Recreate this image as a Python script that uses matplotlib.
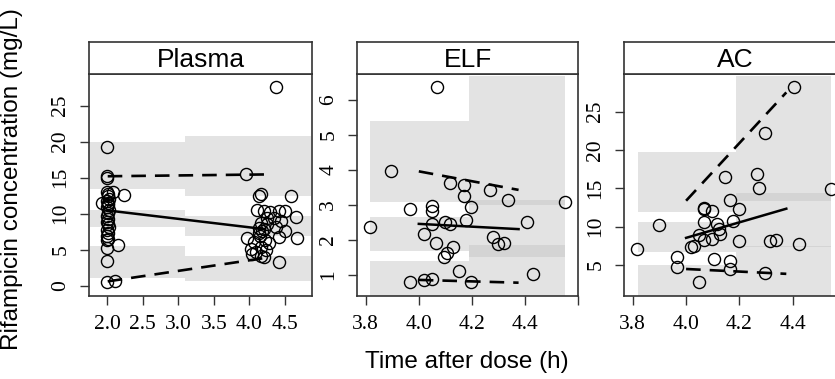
import numpy as np
import matplotlib
matplotlib.use("Agg")
import matplotlib.pyplot as plt

# observed concentrations (time after dose in h, conc in mg/L)
plasma_t = [2.0, 2.0, 2.0, 2.09, 1.93, 2.24, 2.16, 2.0, 2.0, 2.0, 2.11,
            2.0, 2.02, 2.01, 2.03, 2.0, 2.02, 2.01, 2.0, 2.03, 2.01, 2.0, 2.02,
            2.0, 2.01, 2.03, 2.0, 2.02, 2.0, 2.01, 2.0,
            4.378, 3.948, 4.135, 4.17, 4.58, 4.11, 4.205, 4.285, 4.416, 4.496,
            4.345, 4.65, 4.44, 4.16, 4.25, 4.38, 4.135, 4.18, 4.135, 4.5,
            4.416, 4.67, 3.97, 4.065, 4.275, 4.16, 4.03, 4.23, 4.04, 4.16,
            4.2, 4.416, 4.2, 4.15, 4.22, 4.1, 4.25]
plasma_c = [19.3, 15.3, 14.9, 13.05, 11.5, 12.6, 5.6, 5.25, 3.4, 0.45, 0.6,
            13.0, 12.7, 12.4, 12.1, 11.8, 11.5, 11.2, 10.9, 10.5, 10.1, 9.7, 9.3,
            8.9, 8.5, 8.1, 7.7, 7.3, 6.9, 6.5, 6.3,
            27.55, 15.5, 12.5, 12.74, 12.46, 10.5, 10.42, 10.28, 10.42, 10.42,
            9.36, 9.58, 9.03, 8.67, 8.57, 8.2, 8.01, 7.64, 7.28, 7.64,
            6.72, 6.62, 6.58, 6.03, 5.89, 5.33, 5.1, 4.96, 4.4, 4.17,
            3.94, 3.33, 7.9, 6.9, 6.4, 4.7, 9.4]

elf_t = [4.068, 3.896, 4.118, 4.169, 4.169, 4.269, 4.338, 4.55, 3.967, 4.049,
         4.049, 4.197, 3.816, 4.049, 4.097, 4.118, 4.177, 4.409, 4.018, 4.065,
         4.128, 4.106, 4.096, 4.278, 4.298, 4.32, 4.15, 4.43, 3.967, 4.018,
         4.049, 4.197]
elf_c = [6.36, 3.96, 3.63, 3.58, 3.27, 3.44, 3.13, 3.09, 2.88, 2.96,
         2.82, 2.95, 2.38, 2.46, 2.52, 2.46, 2.57, 2.52, 2.17, 1.91,
         1.81, 1.62, 1.51, 2.09, 1.88, 1.91, 1.12, 1.03, 0.79, 0.86,
         0.89, 0.79]

ac_t = [4.405, 4.297, 4.147, 4.265, 4.275, 4.542, 4.166, 4.066, 4.066, 4.097,
        4.197, 3.898, 4.066, 4.116, 4.176, 4.122, 4.048, 4.129, 4.066, 4.097,
        4.197, 4.315, 4.336, 4.425, 4.019, 4.031, 3.817, 3.967, 3.967, 4.106,
        4.166, 4.166, 4.297, 4.048]
ac_c = [28.17, 22.2, 16.43, 16.9, 15.08, 14.87, 13.47, 12.47, 12.3, 12.0,
        12.34, 10.22, 10.6, 10.35, 10.74, 9.7, 8.91, 9.0, 8.26, 8.39,
        8.09, 8.17, 8.22, 7.7, 7.39, 7.43, 7.05, 6.04, 4.78, 5.78,
        5.56, 4.52, 3.92, 2.74]

# simulated prediction intervals per time bin: 5th, 50th, 95th percentile bands
plasma_bins = [1.76, 3.095, 4.87]
plasma_band_lo = [[1.07, 0.61], [8.11, 6.86], [13.43, 12.42]]
plasma_band_hi = [[5.56, 4.08], [10.56, 9.72], [19.9, 20.83]]

elf_bins = [3.815, 4.19, 4.552]
elf_band_lo = [[0.3, 0.3], [1.69, 1.51], [3.08, 3.0]]
elf_band_hi = [[1.41, 1.87], [2.67, 3.15], [5.41, 6.69]]

ac_bins = [3.819, 4.188, 4.545]
ac_band_lo = [[0.5, 0.5], [6.66, 7.3], [11.87, 13.38]]
ac_band_hi = [[5.04, 7.45], [10.57, 14.43], [19.69, 29.68]]

# observed percentiles at bin midpoints
plasma_mid = [2.01, 4.22]
plasma_p5 = [0.6, 3.85]
plasma_p50 = [10.45, 7.85]
plasma_p95 = [15.2, 15.45]

elf_mid = [4.0, 4.376]
elf_p5 = [0.86, 0.78]
elf_p50 = [2.46, 2.31]
elf_p95 = [3.96, 3.43]

ac_mid = [4.0, 4.376]
ac_p5 = [4.48, 3.85]
ac_p50 = [8.54, 12.34]
ac_p95 = [13.38, 27.5]

W, H = 835, 379
fig = plt.figure(figsize=(W / 100, H / 100), dpi=100)
fig.patch.set_facecolor("white")
plt.rcParams["lines.scale_dashes"] = False

SERIF = "Liberation Serif"
SANS = "Liberation Sans"
EDGE = "#333333"


def px_axes(l, r, t, b):
    return fig.add_axes([l / W, 1 - b / H, (r - l) / W, (b - t) / H])


def panel(l, r, title, t, c, bins, lo, hi, mid, p5, p50, p95,
          xlim, ylim, xticks, xlabels, yticks):
    ax = px_axes(l, r, 74, 296)
    widths = np.diff(bins)
    for blo, bhi in zip(lo, hi):
        ax.bar(bins[:-1], np.array(bhi) - np.array(blo), bottom=blo,
               width=widths, align="edge", color="#c2c2c2", alpha=0.45,
               linewidth=0, zorder=1)
    ax.plot(mid, p50, color="black", lw=1.8, zorder=3)
    for p in (p5, p95):
        ax.plot(mid, p, color="black", lw=1.9, linestyle=(0, (10.5, 6.5)), zorder=3)
    ax.plot(t, c, linestyle="none", marker="o", markersize=8.7,
            markerfacecolor="none", markeredgecolor="black",
            markeredgewidth=1.0, zorder=4)
    ax.set_xlim(*xlim)
    ax.set_ylim(*ylim)
    ax.set_xticks(xticks)
    ax.set_xticklabels(xlabels, fontfamily=SERIF, fontsize=15.5)
    ax.set_yticks(yticks)
    ax.set_yticklabels([str(v) for v in yticks], fontfamily=SERIF,
                       fontsize=15.5, rotation=90, va="center")
    ax.tick_params(direction="out", length=6.5, width=1.0, color=EDGE,
                   pad=7, top=False, right=False)
    for s in ax.spines.values():
        s.set_color(EDGE)
        s.set_linewidth(1.2)

    st = px_axes(l, r, 42, 74)
    st.set_xticks([])
    st.set_yticks([])
    for s in st.spines.values():
        s.set_color(EDGE)
        s.set_linewidth(1.2)
    st.text(0.5, 0.45, title, ha="center", va="center", fontsize=19,
            fontfamily=SANS, transform=st.transAxes)
    return ax


panel(89, 312, "Plasma", plasma_t, plasma_c, plasma_bins, plasma_band_lo,
      plasma_band_hi, plasma_mid, plasma_p5, plasma_p50, plasma_p95,
      (1.747, 4.88), (-1.43, 29.4), [2.0, 2.5, 3.0, 3.5, 4.0, 4.5],
      ["2.0", "2.5", "3.0", "3.5", "4.0", "4.5"], [0, 5, 10, 15, 20, 25])

panel(357, 578, "ELF", elf_t, elf_c, elf_bins, elf_band_lo, elf_band_hi,
      elf_mid, elf_p5, elf_p50, elf_p95,
      (3.767, 4.6), (0.4, 6.74), [3.8, 4.0, 4.2, 4.4, 4.6],
      ["3.8", "4.0", "4.2", "4.4", ""], [1, 2, 3, 4, 5, 6])

panel(624, 846, "AC", ac_t, ac_c, ac_bins, ac_band_lo, ac_band_hi,
      ac_mid, ac_p5, ac_p50, ac_p95,
      (3.767, 4.6), (0.96, 29.9), [3.8, 4.0, 4.2, 4.4, 4.6],
      ["3.8", "4.0", "4.2", "4.4", ""], [5, 10, 15, 20, 25])

fig.text(12 / W, 1 - 179 / H, "Rifampicin concentration (mg/L)",
         rotation=90, ha="center", va="center", fontsize=17.5, fontfamily=SANS)
fig.text(467 / W, 1 - 362 / H, "Time after dose (h)",
         ha="center", va="center", fontsize=17.5, fontfamily=SANS)

fig.savefig("out.png", dpi=100, facecolor="white")
